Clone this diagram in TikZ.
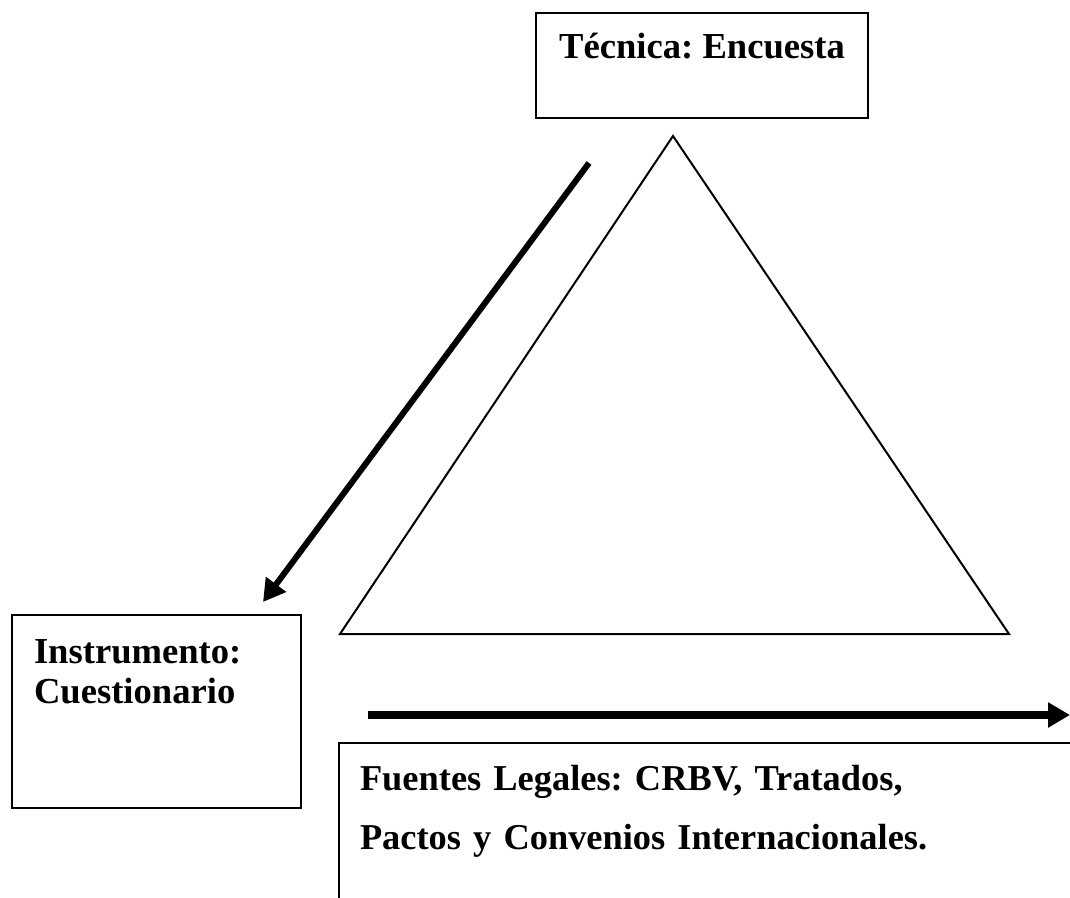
\documentclass[tikz,border=0pt]{standalone}
\usepackage{fontspec}
\setmainfont{Liberation Serif}
\usetikzlibrary{arrows.meta}
\frenchspacing

\begin{document}
\begin{tikzpicture}[x=0.5pt,y=-0.5pt,
	box/.style={draw,line width=1pt,anchor=north west,inner ysep=0pt,font=\bfseries\fontsize{18.3}{20}\selectfont},
	big arrow/.style={-{Triangle[length=11pt,width=12pt]}}]
	%\draw[help lines] (0,0) grid (1070,898);
	\useasboundingbox (0,0) rectangle (1070,898);
	\clip (0,0) rectangle (1070,898);

	\node[box,minimum width=166pt,text height=23pt,text depth=29.5pt] (tec) at (535,12) {Técnica: Encuesta};
	\node[box,text width=122.5pt,inner xsep=11pt,align=left,text height=24pt,text depth=72.5pt] (ins) at (11,614) {Instrumento:\\Cuestionario};
	\node[box,text width=360pt,inner xsep=10.5pt,align=left,text height=23.5pt,text depth=60pt,
		font=\bfseries\fontsize{18.2}{29.5}\selectfont] (fue) at (338,742) {Fuentes Legales: CRBV, Tratados,\\Pactos y Convenios Internacionales.};

	% triangle
	\coordinate (apex) at (673,136);
	\coordinate (bl) at (340,634);
	\coordinate (br) at (1009,634);
	\draw[line width=1pt] (apex) -- (bl) -- (br) -- cycle;

	% arrows
	\coordinate (d1) at (589,163);
	\coordinate (d2) at (263,602);
	\draw[big arrow,line width=3pt] (d1) -- (d2);
	\coordinate (h1) at (368,715);
	\coordinate (h2) at (1070,715);
	\draw[big arrow,line width=3.8pt] (h1) -- (h2);

\end{tikzpicture}
\end{document}
